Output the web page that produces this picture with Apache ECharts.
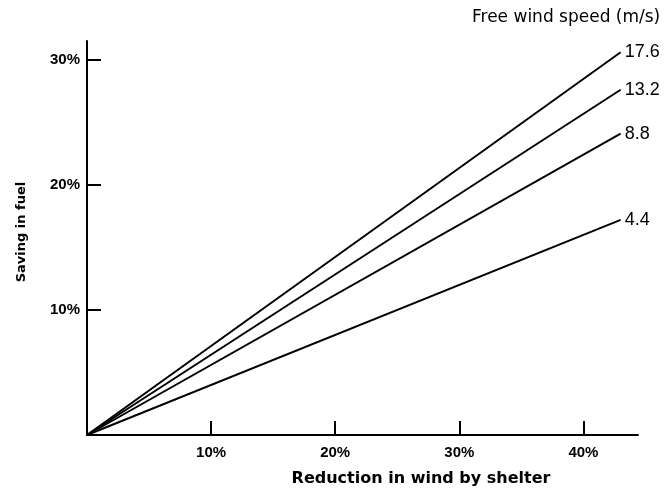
<!DOCTYPE html>
<html>
<head>
<meta charset="utf-8">
<script src="https://cdn.jsdelivr.net/npm/echarts@6/dist/echarts.min.js"></script>
<style>html,body{margin:0;padding:0;background:#fff}#c{width:667px;height:490px}</style>
</head>
<body>
<div id="c"></div>
<script>
var speeds = ['17.6', '13.2', '8.8', '4.4'];
var xReduction = [0, 43];
var saving176 = [0, 30.6];
var saving132 = [0, 27.6];
var saving88 = [0, 24.1];
var saving44 = [0, 17.2];
var savings = [saving176, saving132, saving88, saving44];
var xTicks = [10, 20, 30, 40];
var yTicks = [10, 20, 30];
var legendTitle = 'Free wind speed (m/s)';
var xTitle = 'Reduction in wind by shelter';
var yTitle = 'Saving in fuel';

var FONT = '"Liberation Sans", Arial, sans-serif';
var DV = '"DejaVu Sans", sans-serif';
var chart = echarts.init(document.getElementById('c'), null, {renderer: 'canvas'});

var series = speeds.map(function (s, i) {
  return {
    name: s,
    type: 'line',
    symbol: 'none',
    silent: true,
    animation: false,
    lineStyle: {color: '#000', width: 2},
    data: xReduction.map(function (x, j) { return [x, savings[i][j]]; }),
    endLabel: {
      show: true,
      formatter: '{a}',
      color: '#000',
      fontFamily: FONT,
      fontSize: 18,
      distance: 4
    }
  };
});

chart.setOption({
  animation: false,
  backgroundColor: '#fff',
  graphic: [
    {
      type: 'text', left: 472, top: 9, silent: true,
      style: {text: legendTitle, font: '17px ' + DV, fill: '#000'}
    },
    {
      type: 'text', x: 421, y: 479, silent: true,
      style: {text: xTitle, font: 'bold 16px ' + DV, fill: '#000', align: 'center', verticalAlign: 'middle'}
    },
    {
      type: 'text', x: 22, y: 232, rotation: Math.PI / 2, silent: true,
      style: {text: yTitle, font: 'bold 13px ' + DV, fill: '#000', align: 'center', verticalAlign: 'middle'}
    }
  ],
  grid: {left: 87, right: 29, top: 41, bottom: 55, outerBoundsMode: 'none'},
  xAxis: {
    type: 'value',
    min: 0,
    max: 44.4,
    axisLine: {lineStyle: {color: '#000', width: 2}},
    axisTick: {inside: true, length: 14, customValues: xTicks, lineStyle: {color: '#000', width: 2}},
    splitLine: {show: false},
    axisLabel: {
      customValues: xTicks,
      margin: 10,
      color: '#000',
      fontFamily: FONT,
      fontSize: 15,
      fontWeight: 'bold',
      formatter: function (v) { return v + '%'; }
    }
  },
  yAxis: {
    type: 'value',
    min: 0,
    max: 31.5,
    axisLine: {show: true, lineStyle: {color: '#000', width: 2}},
    axisTick: {show: true, inside: true, length: 14, customValues: yTicks, lineStyle: {color: '#000', width: 2}},
    splitLine: {show: false},
    axisLabel: {
      customValues: yTicks,
      margin: 7,
      color: '#000',
      fontFamily: FONT,
      fontSize: 15,
      fontWeight: 'bold',
      formatter: function (v) { return v + '%'; }
    }
  },
  series: series
});
</script>
</body>
</html>
